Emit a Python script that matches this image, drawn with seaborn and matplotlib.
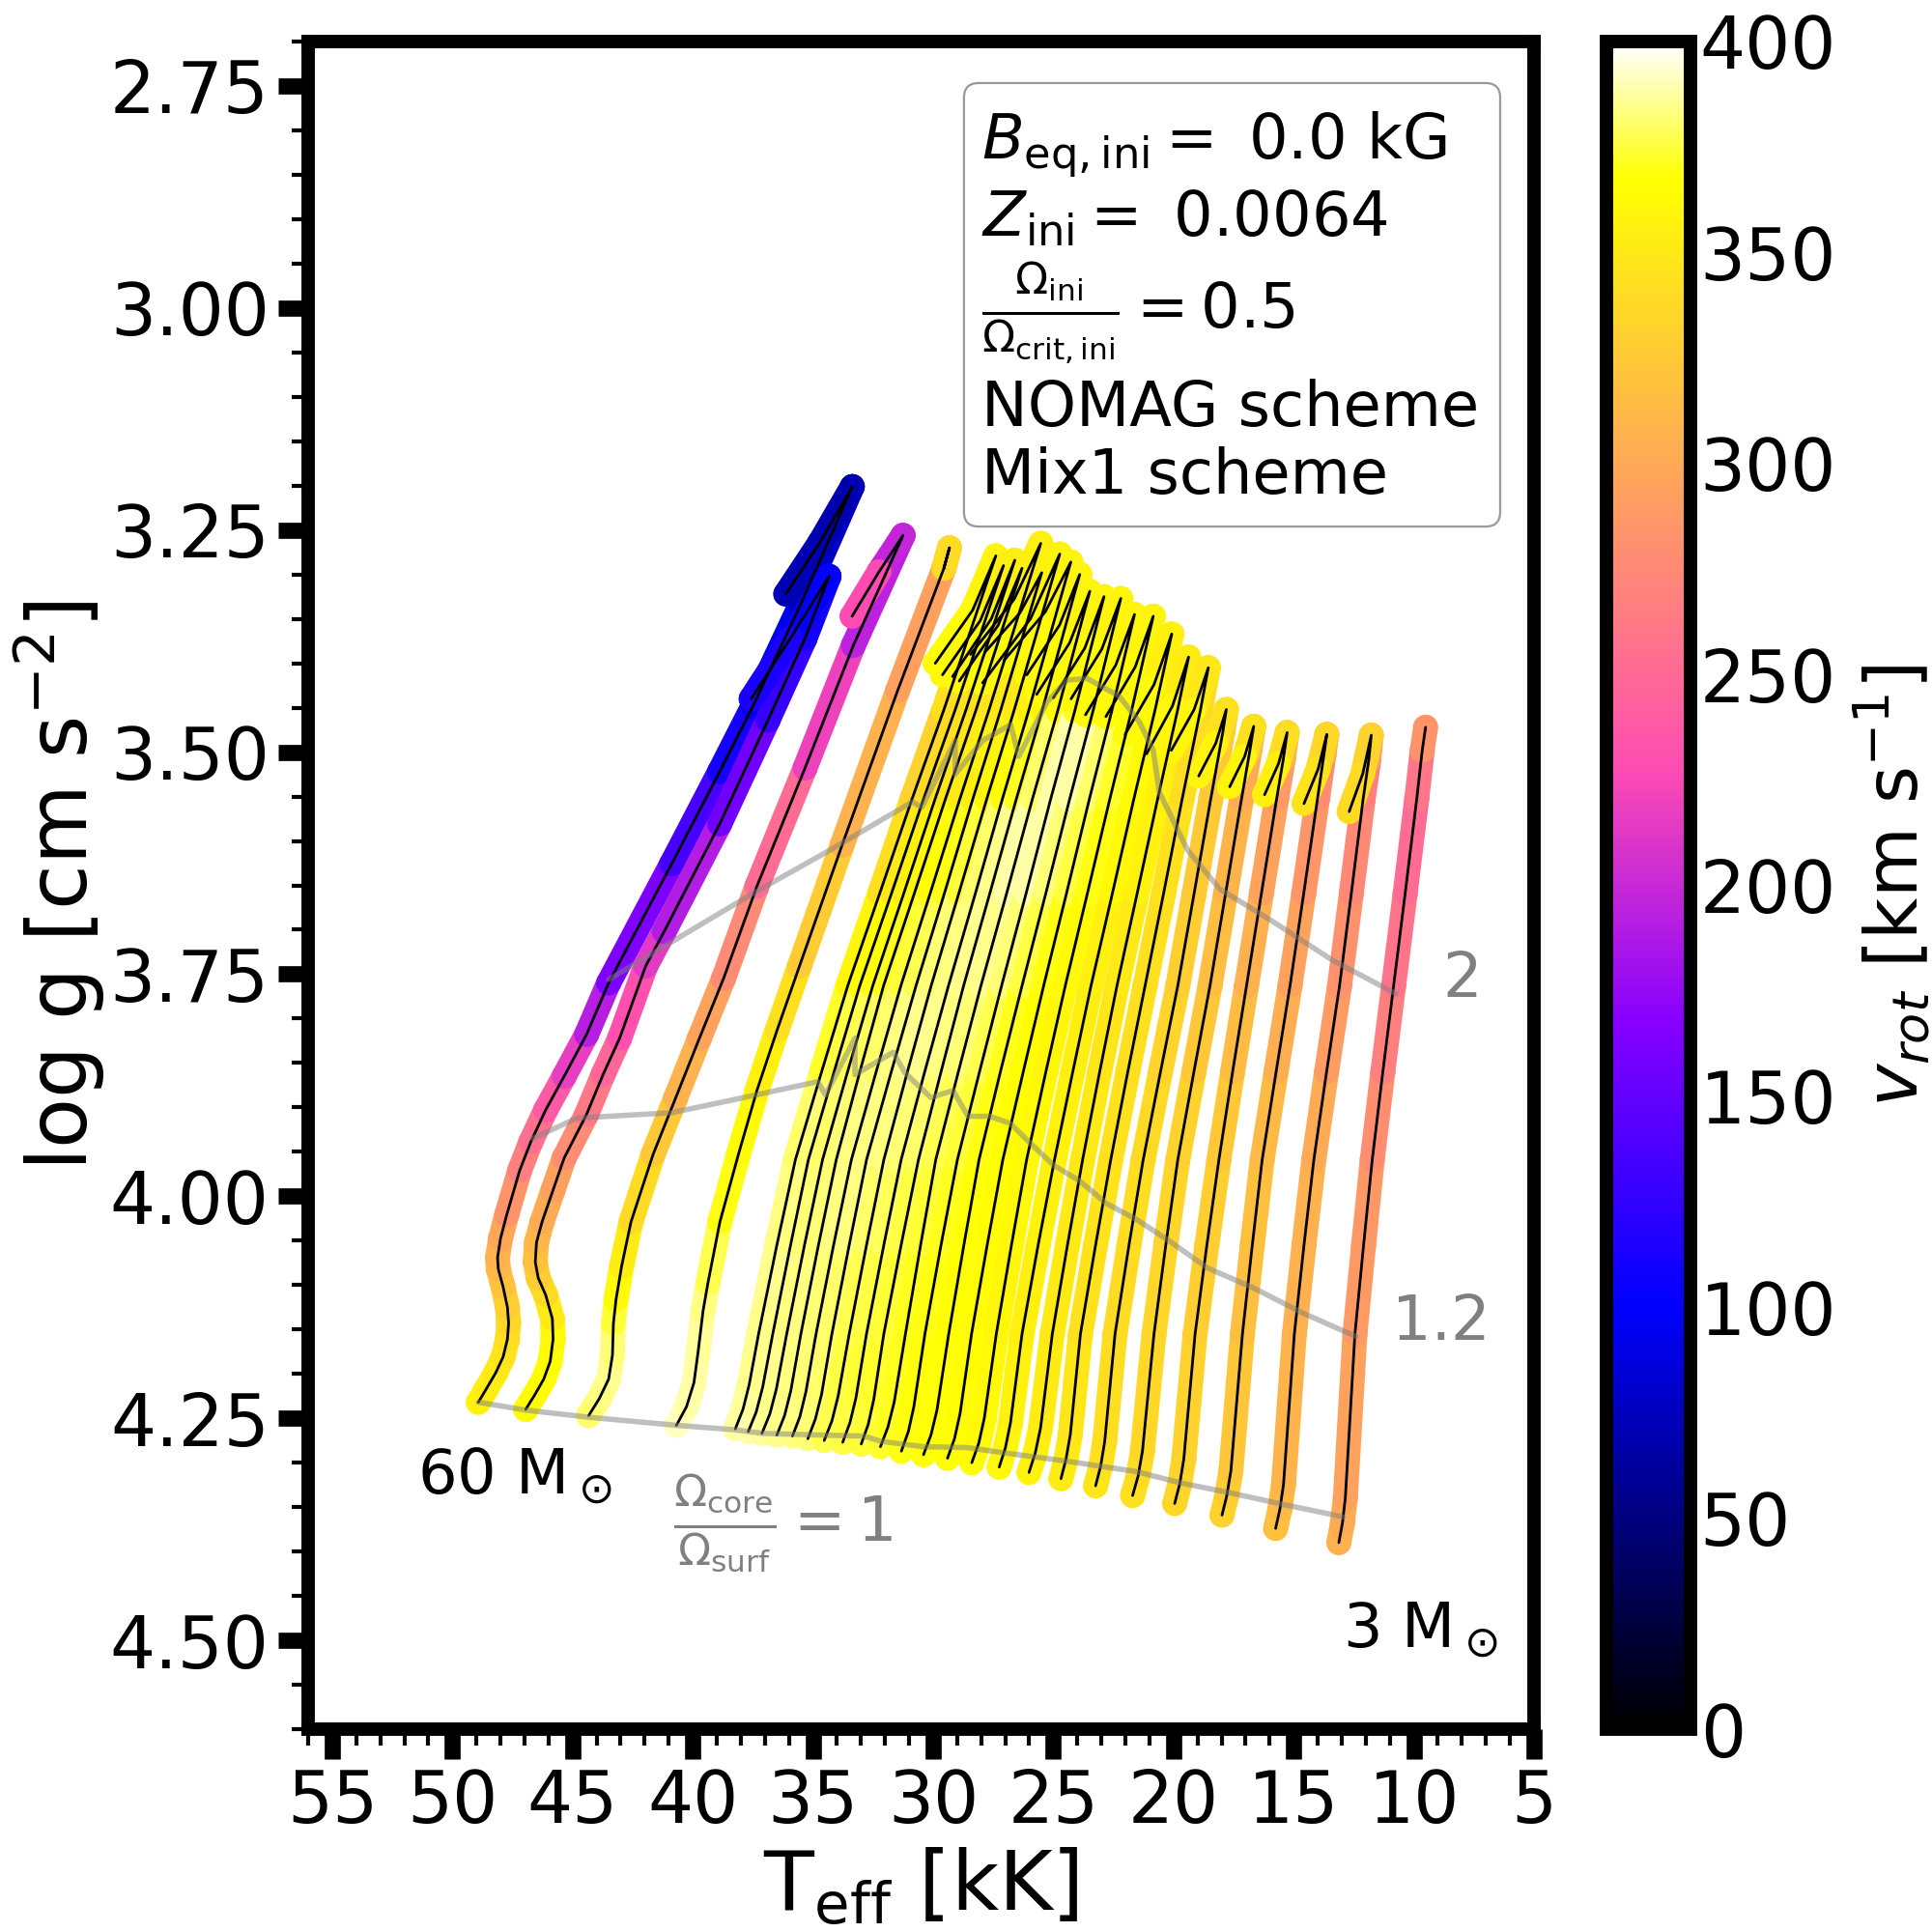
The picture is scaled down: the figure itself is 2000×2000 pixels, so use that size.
import numpy as np
import matplotlib
matplotlib.use('Agg')
import matplotlib.pyplot as plt
import seaborn as sns
from matplotlib.collections import LineCollection
from matplotlib.colors import Normalize
from matplotlib.cm import ScalarMappable
from matplotlib.patches import FancyBboxPatch
from matplotlib.ticker import MultipleLocator, FixedLocator

# tracks, 60 Msun first, 3 Msun last
teff_01 = [48.92, 48.59, 48.20, 47.89, 47.71, 47.66, 47.71, 47.89, 48.09, 48.12, 48.00, 47.74, 47.20, 46.74, 46.12, 45.35, 44.42, 43.50, 40.88, 38.88, 37.49, 35.50, 33.36, 34.71, 36.13]
logg_01 = [4.232, 4.217, 4.199, 4.181, 4.161, 4.143, 4.125, 4.102, 4.082, 4.069, 4.048, 4.021, 3.971, 3.939, 3.903, 3.865, 3.818, 3.760, 3.626, 3.522, 3.448, 3.333, 3.201, 3.264, 3.322]
vrot_01 = [358, 356, 352, 348, 343, 340, 334, 325, 315, 308, 302, 292, 275, 262, 248, 228, 205, 178, 150, 120, 100, 85, 70, 70, 72]

teff_02 = [46.95, 46.58, 46.20, 45.93, 45.81, 45.84, 46.12, 46.43, 46.55, 46.50, 46.27, 45.81, 45.35, 44.42, 43.73, 43.04, 41.96, 41.19, 38.88, 36.87, 35.33, 34.33, 35.94, 37.57]
logg_02 = [4.240, 4.224, 4.206, 4.186, 4.161, 4.138, 4.111, 4.092, 4.074, 4.052, 4.029, 3.993, 3.957, 3.908, 3.863, 3.822, 3.741, 3.702, 3.581, 3.464, 3.372, 3.302, 3.372, 3.440]
vrot_02 = [362, 365, 366, 367, 365, 358, 345, 332, 322, 315, 305, 298, 288, 268, 255, 240, 220, 205, 175, 140, 115, 105, 100, 125]

teff_03 = [44.33, 43.89, 43.50, 43.34, 43.30, 43.19, 42.96, 42.57, 41.65, 40.72, 39.72, 38.72, 37.33, 35.33, 33.32, 31.25, 32.25, 33.37]
logg_03 = [4.247, 4.228, 4.206, 4.179, 4.143, 4.116, 4.079, 4.029, 3.953, 3.890, 3.822, 3.755, 3.651, 3.518, 3.380, 3.256, 3.297, 3.347]
vrot_03 = [378, 382, 385, 385, 378, 370, 358, 348, 332, 315, 300, 288, 265, 240, 200, 190, 205, 250]

teff_04 = [40.68, 40.26, 39.95, 39.77, 39.57, 39.37, 38.87, 38.10, 37.33, 36.49, 35.56, 33.79, 31.48, 29.55, 29.32, 29.55]
logg_04 = [4.258, 4.237, 4.210, 4.174, 4.129, 4.098, 4.029, 3.953, 3.881, 3.813, 3.741, 3.605, 3.431, 3.293, 3.270, 3.293]
vrot_04 = [392, 390, 388, 387, 385, 382, 372, 366, 360, 350, 335, 320, 295, 290, 330, 350]

teff_05 = [38.23, 37.91, 37.65, 37.26, 36.50, 35.73, 34.64, 33.55, 32.22, 30.88, 29.56, 27.39, 28.35, 29.91]
logg_05 = [4.262, 4.240, 4.212, 4.155, 4.055, 3.959, 3.860, 3.763, 3.659, 3.553, 3.453, 3.279, 3.340, 3.400]
vrot_05 = [388, 387, 386, 385, 384, 383, 378, 368, 352, 335, 330, 355, 362, 368]

teff_06 = [37.69, 37.36, 37.09, 36.67, 35.93, 35.19, 34.12, 33.05, 31.73, 30.40, 29.09, 27.07, 28.04, 29.61]
logg_06 = [4.265, 4.243, 4.215, 4.155, 4.055, 3.959, 3.860, 3.763, 3.659, 3.553, 3.453, 3.290, 3.352, 3.413]
vrot_06 = [388, 387, 386, 385, 384, 383, 380, 372, 358, 345, 332, 352, 360, 366]

teff_07 = [37.12, 36.79, 36.52, 36.09, 35.35, 34.60, 33.56, 32.51, 31.22, 29.92, 28.64, 26.60, 27.58, 29.19]
logg_07 = [4.267, 4.245, 4.217, 4.155, 4.055, 3.959, 3.860, 3.763, 3.659, 3.553, 3.453, 3.284, 3.350, 3.415]
vrot_07 = [387, 386, 385, 384, 383, 382, 380, 374, 362, 350, 335, 350, 358, 365]

teff_08 = [36.50, 36.18, 35.92, 35.50, 34.77, 34.03, 33.05, 32.06, 30.78, 29.49, 28.22, 26.30, 27.29, 28.91]
logg_08 = [4.269, 4.247, 4.219, 4.155, 4.055, 3.959, 3.860, 3.763, 3.659, 3.553, 3.453, 3.293, 3.357, 3.420]
vrot_08 = [386, 385, 384, 383, 383, 382, 381, 376, 366, 358, 338, 350, 358, 365]

teff_09 = [35.85, 35.54, 35.29, 34.87, 34.14, 33.40, 32.37, 31.34, 30.12, 28.89, 27.68, 25.52, 26.63, 28.44]
logg_09 = [4.270, 4.248, 4.220, 4.155, 4.055, 3.959, 3.860, 3.763, 3.659, 3.553, 3.453, 3.265, 3.328, 3.390]
vrot_09 = [384, 384, 383, 382, 382, 384, 382, 378, 370, 362, 342, 352, 360, 366]

teff_10 = [35.21, 34.90, 34.64, 34.21, 33.49, 32.77, 31.74, 30.71, 29.53, 28.35, 27.19, 25.48, 26.38, 27.86]
logg_10 = [4.273, 4.251, 4.223, 4.155, 4.055, 3.959, 3.860, 3.763, 3.659, 3.553, 3.453, 3.298, 3.343, 3.388]
vrot_10 = [382, 382, 381, 380, 382, 384, 384, 382, 374, 365, 345, 352, 358, 364]

teff_11 = [34.53, 34.21, 33.95, 33.49, 32.77, 32.05, 31.07, 30.08, 28.93, 27.77, 26.63, 24.73, 25.95, 27.94]
logg_11 = [4.275, 4.253, 4.225, 4.155, 4.055, 3.959, 3.860, 3.763, 3.659, 3.553, 3.453, 3.277, 3.350, 3.422]
vrot_11 = [378, 378, 377, 376, 380, 382, 385, 385, 378, 370, 348, 355, 360, 366]

teff_12 = [33.76, 33.46, 33.21, 32.77, 32.05, 31.33, 30.35, 29.36, 28.24, 27.12, 26.02, 24.27, 25.33, 27.06]
logg_12 = [4.277, 4.255, 4.227, 4.155, 4.055, 3.959, 3.860, 3.763, 3.659, 3.553, 3.453, 3.286, 3.342, 3.397]
vrot_12 = [376, 376, 375, 374, 378, 380, 384, 385, 382, 378, 352, 355, 362, 366]

teff_13 = [32.99, 32.70, 32.47, 32.05, 31.33, 30.61, 29.67, 28.73, 27.64, 26.54, 25.46, 23.90, 24.74, 26.10]
logg_13 = [4.279, 4.257, 4.229, 4.155, 4.055, 3.959, 3.860, 3.763, 3.659, 3.553, 3.453, 3.300, 3.357, 3.413]
vrot_13 = [374, 374, 373, 372, 375, 378, 382, 385, 386, 385, 358, 355, 362, 366]

teff_14 = [32.19, 31.88, 31.62, 31.15, 30.52, 29.89, 28.95, 28.01, 26.94, 25.87, 24.81, 23.48, 24.32, 25.69]
logg_14 = [4.282, 4.260, 4.232, 4.155, 4.055, 3.959, 3.860, 3.763, 3.659, 3.553, 3.453, 3.319, 3.377, 3.435]
vrot_14 = [372, 372, 371, 370, 372, 375, 380, 383, 388, 390, 372, 355, 362, 366]

teff_15 = [31.32, 31.03, 30.80, 30.34, 29.67, 28.99, 28.07, 27.15, 26.13, 25.11, 24.10, 22.89, 23.69, 25.00]
logg_15 = [4.287, 4.265, 4.237, 4.155, 4.055, 3.959, 3.860, 3.763, 3.659, 3.553, 3.453, 3.325, 3.383, 3.439]
vrot_15 = [370, 370, 369, 368, 370, 372, 376, 378, 386, 390, 388, 355, 362, 366]

teff_16 = [30.40, 30.09, 29.84, 29.35, 28.72, 28.09, 27.20, 26.30, 25.31, 24.32, 23.34, 22.19, 22.98, 24.26]
logg_16 = [4.291, 4.269, 4.241, 4.155, 4.055, 3.959, 3.860, 3.763, 3.659, 3.553, 3.453, 3.327, 3.384, 3.440]
vrot_16 = [368, 368, 368, 367, 367, 368, 370, 372, 380, 385, 390, 355, 362, 366]

teff_17 = [29.40, 29.11, 28.88, 28.40, 27.75, 27.10, 26.25, 25.40, 24.45, 23.50, 22.56, 21.62, 22.40, 23.66]
logg_17 = [4.295, 4.273, 4.245, 4.155, 4.055, 3.959, 3.860, 3.763, 3.659, 3.553, 3.453, 3.345, 3.402, 3.458]
vrot_17 = [367, 367, 366, 365, 365, 366, 366, 366, 372, 378, 382, 355, 362, 366]

teff_18 = [28.39, 28.10, 27.87, 27.37, 26.74, 26.11, 25.31, 24.50, 23.58, 22.65, 21.74, 20.84, 21.59, 22.81]
logg_18 = [4.300, 4.278, 4.250, 4.155, 4.055, 3.959, 3.860, 3.763, 3.659, 3.553, 3.453, 3.347, 3.404, 3.460]
vrot_18 = [365, 364, 363, 360, 361, 362, 361, 360, 366, 372, 372, 355, 362, 366]

teff_19 = [27.25, 26.99, 26.78, 26.30, 25.63, 24.95, 24.19, 23.43, 22.54, 21.65, 20.77, 20.07, 20.81, 22.01]
logg_19 = [4.305, 4.283, 4.255, 4.155, 4.055, 3.959, 3.860, 3.763, 3.659, 3.553, 3.453, 3.367, 3.424, 3.480]
vrot_19 = [362, 360, 359, 355, 356, 358, 355, 352, 358, 365, 362, 350, 360, 366]

teff_20 = [26.01, 25.75, 25.53, 25.04, 24.41, 23.78, 23.07, 22.35, 21.51, 20.66, 19.83, 19.37, 20.04, 21.12]
logg_20 = [4.311, 4.289, 4.261, 4.155, 4.055, 3.959, 3.860, 3.763, 3.659, 3.553, 3.453, 3.393, 3.448, 3.502]
vrot_20 = [358, 356, 355, 350, 351, 352, 349, 347, 353, 360, 352, 348, 358, 364]

teff_21 = [24.68, 24.47, 24.29, 23.87, 23.24, 22.61, 21.90, 21.18, 20.41, 19.64, 18.88, 18.55, 19.14, 20.09]
logg_21 = [4.318, 4.296, 4.268, 4.155, 4.055, 3.959, 3.860, 3.763, 3.659, 3.553, 3.453, 3.405, 3.452, 3.498]
vrot_21 = [354, 352, 350, 345, 345, 346, 344, 342, 344, 345, 338, 342, 355, 364]

teff_22 = [23.24, 23.03, 22.86, 22.43, 21.85, 21.26, 20.54, 19.82, 19.14, 18.45, 17.95, 17.80, 18.24, 18.95]
logg_22 = [4.326, 4.304, 4.276, 4.155, 4.055, 3.959, 3.860, 3.763, 3.659, 3.553, 3.478, 3.452, 3.490, 3.527]
vrot_22 = [348, 346, 344, 340, 341, 342, 336, 330, 328, 325, 322, 336, 352, 366]

teff_23 = [21.70, 21.47, 21.29, 20.81, 20.32, 19.82, 19.15, 18.48, 17.83, 17.17, 16.82, 16.66, 17.04, 17.66]
logg_23 = [4.337, 4.315, 4.287, 4.155, 4.055, 3.959, 3.860, 3.763, 3.659, 3.553, 3.498, 3.471, 3.505, 3.539]
vrot_23 = [344, 342, 339, 335, 335, 335, 328, 320, 312, 305, 300, 335, 352, 366]

teff_24 = [19.95, 19.74, 19.57, 19.10, 18.61, 18.11, 17.54, 16.96, 16.34, 15.71, 15.43, 15.27, 15.63, 16.21]
logg_24 = [4.346, 4.324, 4.296, 4.155, 4.055, 3.959, 3.860, 3.763, 3.659, 3.553, 3.508, 3.478, 3.513, 3.548]
vrot_24 = [338, 336, 333, 330, 329, 328, 319, 310, 300, 290, 285, 332, 350, 362]

teff_25 = [17.98, 17.78, 17.61, 17.13, 16.72, 16.31, 15.73, 15.15, 14.58, 14.01, 13.74, 13.62, 13.98, 14.57]
logg_25 = [4.359, 4.337, 4.309, 4.155, 4.055, 3.959, 3.860, 3.763, 3.659, 3.553, 3.503, 3.480, 3.519, 3.558]
vrot_25 = [334, 330, 326, 318, 318, 318, 309, 300, 290, 280, 275, 330, 342, 350]

teff_26 = [15.75, 15.57, 15.42, 14.97, 14.57, 14.16, 13.63, 13.09, 12.60, 12.11, 11.87, 11.77, 12.12, 12.69]
logg_26 = [4.374, 4.352, 4.324, 4.155, 4.055, 3.959, 3.860, 3.763, 3.659, 3.553, 3.508, 3.481, 3.524, 3.567]
vrot_26 = [320, 316, 312, 305, 305, 305, 295, 285, 278, 270, 265, 325, 338, 338]

teff_27 = [13.12, 12.97, 12.85, 12.45, 12.09, 11.73, 11.29, 10.84, 10.36, 9.88, 9.65, 9.51]
logg_27 = [4.390, 4.368, 4.340, 4.155, 4.055, 3.959, 3.860, 3.763, 3.659, 3.553, 3.498, 3.472]
vrot_27 = [308, 303, 298, 290, 288, 285, 274, 262, 256, 250, 270, 298]

# lines of constant core to surface rotation ratio
iso_1_teff = [48.92, 46.89, 44.27, 40.65, 38.23, 37.10, 34.56, 32.87, 32.17, 30.40, 28.59, 27.02, 24.52, 21.55, 19.67, 17.63, 15.44, 12.94]
iso_1_logg = [4.232, 4.241, 4.249, 4.258, 4.263, 4.267, 4.269, 4.270, 4.276, 4.282, 4.283, 4.289, 4.298, 4.310, 4.323, 4.334, 4.347, 4.361]
iso_12_teff = [46.66, 44.81, 40.88, 38.41, 34.79, 34.48, 33.25, 33.25, 31.66, 31.17, 30.09, 29.17, 28.55, 27.65, 26.79, 25.93, 24.99, 23.89, 22.80, 21.55, 20.14, 18.57, 16.69, 14.66, 12.40]
iso_12_logg = [3.935, 3.912, 3.906, 3.892, 3.871, 3.886, 3.822, 3.863, 3.838, 3.861, 3.889, 3.881, 3.910, 3.910, 3.918, 3.941, 3.965, 3.983, 4.008, 4.026, 4.051, 4.081, 4.103, 4.131, 4.158]
iso_2_teff = [43.50, 37.49, 34.40, 30.86, 30.47, 29.08, 29.08, 27.94, 26.77, 26.44, 25.27, 24.43, 23.60, 22.26, 21.42, 20.84, 20.59, 19.42, 18.08, 15.91, 13.40, 10.75]
iso_2_logg = [3.756, 3.659, 3.612, 3.556, 3.562, 3.487, 3.525, 3.487, 3.469, 3.505, 3.444, 3.419, 3.417, 3.437, 3.466, 3.498, 3.545, 3.610, 3.654, 3.690, 3.734, 3.772]

tracks = [
    (teff_01, logg_01, vrot_01), (teff_02, logg_02, vrot_02), (teff_03, logg_03, vrot_03),
    (teff_04, logg_04, vrot_04), (teff_05, logg_05, vrot_05), (teff_06, logg_06, vrot_06),
    (teff_07, logg_07, vrot_07), (teff_08, logg_08, vrot_08), (teff_09, logg_09, vrot_09),
    (teff_10, logg_10, vrot_10), (teff_11, logg_11, vrot_11), (teff_12, logg_12, vrot_12),
    (teff_13, logg_13, vrot_13), (teff_14, logg_14, vrot_14), (teff_15, logg_15, vrot_15),
    (teff_16, logg_16, vrot_16), (teff_17, logg_17, vrot_17), (teff_18, logg_18, vrot_18),
    (teff_19, logg_19, vrot_19), (teff_20, logg_20, vrot_20), (teff_21, logg_21, vrot_21),
    (teff_22, logg_22, vrot_22), (teff_23, logg_23, vrot_23), (teff_24, logg_24, vrot_24),
    (teff_25, logg_25, vrot_25), (teff_26, logg_26, vrot_26), (teff_27, logg_27, vrot_27),
]

xticks = [55, 50, 45, 40, 35, 30, 25, 20, 15, 10, 5]
yticks = [2.75, 3.00, 3.25, 3.50, 3.75, 4.00, 4.25, 4.50]
cbar_ticks = [0, 50, 100, 150, 200, 250, 300, 350, 400]

sns.set_theme(style='white')
plt.rcParams['font.family'] = ['DejaVu Sans']
plt.rcParams['mathtext.fontset'] = 'dejavusans'

TICK_SIZE = 26.7
LABEL_SIZE = 30.6
TEXT_SIZE = 23
cmap = 'gnuplot2'
norm = Normalize(0, 400)

fig = plt.figure(figsize=(10, 10), dpi=200)
ax = fig.add_axes([0.1595, 0.105, 0.6345, 0.8735])
cax = fig.add_axes([0.8315, 0.105, 0.0435, 0.8735])

# thick coloured tracks, most massive one first so that the lighter ones lie on top
# points go under the line of the same track, so the hook stays above the rising part
for i, (teff, logg, vrot) in enumerate(tracks):
    sns.scatterplot(x=teff, y=logg, hue=vrot, hue_norm=(0, 400), palette=cmap, s=86,
                    linewidth=0, legend=False, ax=ax, zorder=2 + i * 0.01)
    pts = np.column_stack([teff, logg])
    segs = np.stack([pts[:-1], pts[1:]], axis=1)
    v = np.array(vrot, dtype=float)
    lc = LineCollection(segs, array=(v[:-1] + v[1:]) / 2, cmap=cmap, norm=norm,
                        linewidths=9.3, capstyle='round', joinstyle='round', zorder=2.005 + i * 0.01)
    ax.add_collection(lc)

for teff, logg, vrot in tracks:
    sns.lineplot(x=teff, y=logg, sort=False, estimator=None, color='black', lw=1.0, ax=ax, zorder=3)

for iso_t, iso_g in [(iso_1_teff, iso_1_logg), (iso_12_teff, iso_12_logg), (iso_2_teff, iso_2_logg)]:
    sns.lineplot(x=iso_t, y=iso_g, sort=False, estimator=None, color='gray', alpha=0.5, lw=2, ax=ax, zorder=4)

ax.set_xlim(56, 5)
ax.set_ylim(4.60, 2.70)
ax.xaxis.set_major_locator(FixedLocator(xticks))
ax.xaxis.set_minor_locator(MultipleLocator(1))
ax.yaxis.set_major_locator(FixedLocator(yticks))
ax.yaxis.set_minor_locator(MultipleLocator(0.05))
ax.set_yticklabels(['%.2f' % t for t in yticks])
ax.tick_params(which='major', direction='out', length=11, width=6, labelsize=TICK_SIZE, color='black', bottom=True, left=True)
ax.tick_params(which='minor', direction='out', length=6, width=1.5, color='black', bottom=True, left=True)
for spine in ax.spines.values():
    spine.set_linewidth(5)
    spine.set_color('black')

ax.set_xlabel(r'T$_{\rm eff}$ [kK]', fontsize=LABEL_SIZE, labelpad=3, color='black')
ax.set_ylabel(r'log g [cm s$^{-2}$]', fontsize=LABEL_SIZE, labelpad=0.8, color='black')
ax.tick_params(labelcolor='black')

# labels on the tracks
ax.text(51.45, 4.335, r'60 M$_\odot$', fontsize=TEXT_SIZE, color='black')
ax.text(12.95, 4.508, r'3 M$_\odot$', fontsize=TEXT_SIZE, color='black')
ax.text(8.8, 3.776, '2', fontsize=TEXT_SIZE, color='gray')
ax.text(10.9, 4.162, '1.2', fontsize=TEXT_SIZE, color='gray')
ax.text(40.8, 4.369, r'$\frac{\Omega_{\rm core}}{\Omega_{\rm surf}}=1$', fontsize=TEXT_SIZE, color='gray', va='center')

# box with the model parameters
box = FancyBboxPatch((0.535, 0.7126), 0.4374, 0.2628, boxstyle='round,pad=0,rounding_size=0.012',
                     mutation_aspect=1269 / 1747, transform=ax.transAxes, fc='white', ec='#999999', lw=0.8, zorder=5)
ax.add_patch(box)
box_lines = [
    (0.9302, r'$B_{\rm eq,ini}=$ 0.0 kG'),
    (0.8844, r'$Z_{\rm ini}=$ 0.0064'),
    (0.8294, r'$\frac{\Omega_{\rm ini}}{\Omega_{\rm crit,ini}}=0.5$'),
    (0.772, 'NOMAG scheme'),
    (0.732, 'Mix1 scheme'),
]
for y, s in box_lines:
    ax.text(0.549, y, s, transform=ax.transAxes, fontsize=TEXT_SIZE, va='baseline', color='black', zorder=6)

# colour bar, no tick marks
cb = fig.colorbar(ScalarMappable(norm=norm, cmap=cmap), cax=cax, ticks=cbar_ticks)
cb.outline.set_linewidth(5)
cb.outline.set_edgecolor('black')
cax.tick_params(length=0, pad=3.5, labelsize=TICK_SIZE, labelcolor='black')
cb.set_label(r'$v_{rot}$ [km s$^{-1}$]', fontsize=27, labelpad=6, color='black')

fig.savefig('out.png', dpi=200)
